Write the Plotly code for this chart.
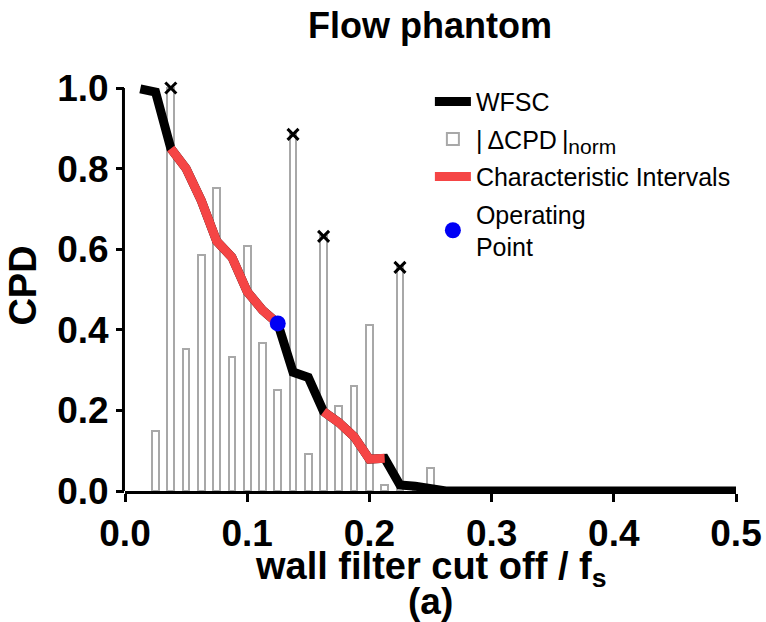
import plotly.graph_objects as go

# Wall filter cut-off (normalised by sampling frequency) and CPD curve
cutoff = [0.0125, 0.025, 0.0375, 0.05, 0.0625, 0.075, 0.0875, 0.1, 0.1125, 0.125,
          0.1375, 0.15, 0.1625, 0.175, 0.1875, 0.2, 0.2125, 0.225, 0.2375, 0.25,
          0.2625, 0.5]
wfsc = [0.998, 0.99, 0.85, 0.80, 0.72, 0.62, 0.58, 0.495, 0.449, 0.416,
        0.295, 0.282, 0.197, 0.17, 0.135, 0.079, 0.081, 0.015, 0.012, 0.006,
        0.0, 0.0]

# Normalised absolute CPD differences
bar_x = [0.025, 0.0375, 0.05, 0.0625, 0.075, 0.0875, 0.1, 0.1125, 0.125, 0.1375,
         0.15, 0.1625, 0.175, 0.1875, 0.2, 0.2125, 0.225, 0.2375, 0.25]
bar_h = [0.15, 1.0, 0.352, 0.585, 0.753, 0.333, 0.609, 0.368, 0.25, 0.885,
         0.092, 0.632, 0.211, 0.26, 0.412, 0.015, 0.555, 0.0, 0.056]

# Peaks of |dCPD| that bound the characteristic intervals
peak_x = [0.0375, 0.1375, 0.1625, 0.225]

# Characteristic intervals (start, end) on the cut-off axis
intervals = [(0.0375, 0.125), (0.1625, 0.2125)]

# Chosen operating point
op_x = [0.125]

FONT = "Liberation Sans, Arial, sans-serif"
RED = "#F54545"
Y_TOP = 1.02  # a little headroom so the thick curve is not clipped at CPD = 1

peak_y = [bar_h[bar_x.index(p)] for p in peak_x]
op_y = [wfsc[cutoff.index(p)] for p in op_x]

red_x, red_y = [], []
for a, b in intervals:
    for xv, yv in zip(cutoff, wfsc):
        if a - 1e-9 <= xv <= b + 1e-9:
            red_x.append(xv)
            red_y.append(yv)
    red_x.append(None)
    red_y.append(None)

fig = go.Figure()

fig.add_trace(go.Bar(
    x=bar_x, y=bar_h, width=0.0055,
    marker=dict(color="white", line=dict(color="#A8A8A8", width=2)),
    name="|\u2009\u0394CPD\u2009|<sub><span style='font-size:21px'>norm</span></sub>",
    legendrank=2, legendgroup="b",
))
fig.add_trace(go.Scatter(
    x=cutoff, y=wfsc, mode="lines",
    line=dict(color="black", width=9),
    name="WFSC", legendrank=1, legendgroup="a",
))
fig.add_trace(go.Scatter(
    x=red_x, y=red_y, mode="lines",
    line=dict(color=RED, width=9),
    name="Characteristic Intervals", legendrank=3, legendgroup="c",
))
fig.add_trace(go.Scatter(
    x=peak_x, y=peak_y, mode="markers",
    marker=dict(symbol="x-thin", size=11, line=dict(color="black", width=3)),
    showlegend=False, cliponaxis=False,
))
fig.add_trace(go.Scatter(
    x=op_x, y=op_y, mode="markers",
    marker=dict(color="#0000F5", size=16),
    name="Operating<br>Point", legendrank=4, legendgroup="d",
    cliponaxis=False,
))

PLOT_BOTTOM = 491
plot_h = 403 * Y_TOP


def py(px):
    """Paper y coordinate for a pixel row measured from the top of the figure."""
    return (PLOT_BOTTOM - px) / plot_h


fig.update_layout(
    width=766, height=622,
    margin=dict(l=125, r=30, t=round(PLOT_BOTTOM - plot_h), b=622 - PLOT_BOTTOM),
    plot_bgcolor="white", paper_bgcolor="white",
    font=dict(family=FONT, color="black"),
    title=dict(text="<b>Flow phantom</b>", x=0.5614, xanchor="center",
               y=1 - 25 / 622, yanchor="middle", yref="container",
               font=dict(size=36, family=FONT)),
    showlegend=True,
    legend=dict(x=0.499, y=1.003, xanchor="left", yanchor="top",
                font=dict(size=25, family=FONT), itemwidth=36,
                tracegroupgap=2, bgcolor="rgba(0,0,0,0)",
                traceorder="grouped"),
    bargap=0,
)

fig.update_xaxes(
    range=[0, 0.5], tickvals=[0, 0.1, 0.2, 0.3, 0.4, 0.5],
    ticktext=["<b>0.0</b>", "<b>0.1</b>", "<b>0.2</b>", "<b>0.3</b>", "<b>0.4</b>", "<b>0.5</b>"],
    showline=True, linecolor="black", linewidth=3,
    ticks="outside", ticklen=8, tickwidth=3, tickcolor="black",
    tickfont=dict(size=37, family=FONT),
    showgrid=False, zeroline=False, automargin=False,
)
fig.update_yaxes(
    range=[0, Y_TOP], tickvals=[0, 0.2, 0.4, 0.6, 0.8, 1.0],
    ticktext=["<b>0.0</b>", "<b>0.2</b>", "<b>0.4</b>", "<b>0.6</b>", "<b>0.8</b>", "<b>1.0</b>"],
    showline=False,
    ticks="outside", ticklen=8, tickwidth=3, tickcolor="black",
    tickfont=dict(size=37, family=FONT),
    showgrid=False, zeroline=False, automargin=False,
    title=dict(text="<b>CPD</b>", font=dict(size=38, family=FONT), standoff=8),
)

# Vertical axis line running from 0 to 1 only
fig.add_shape(type="line", xref="paper", yref="y", x0=-0.0025, x1=-0.0025,
              y0=0, y1=1.0, line=dict(color="black", width=3), layer="above")

# Horizontal axis title and panel label
fig.add_annotation(text="<b>wall filter cut off / f<sub>s</sub></b>",
                   x=0.5, y=py(569), xref="paper", yref="paper",
                   xanchor="center", yanchor="middle", showarrow=False,
                   font=dict(size=38, family=FONT))
fig.add_annotation(text="<b>(a)</b>", x=0.5, y=py(602), xref="paper", yref="paper",
                   xanchor="center", yanchor="middle", showarrow=False,
                   font=dict(size=37, family=FONT))

fig.write_html("out.html")
